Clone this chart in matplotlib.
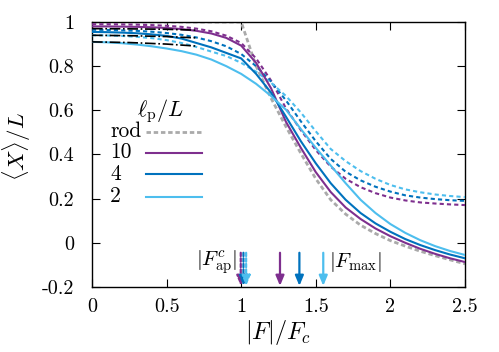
import matplotlib
matplotlib.use("Agg")
import matplotlib.pyplot as plt

plt.rcParams['mathtext.fontset'] = 'cm'
plt.rcParams['font.family'] = ['cmr10', 'DejaVu Serif']
plt.rcParams['axes.unicode_minus'] = False

# ---- data ----
F_grid = [0, 0.1, 0.2, 0.3, 0.4, 0.5, 0.6, 0.7, 0.8, 0.9, 1.0, 1.1, 1.2, 1.3,
          1.4, 1.5, 1.6, 1.7, 1.8, 1.9, 2.0, 2.1, 2.2, 2.3, 2.4, 2.5]

rod_F = [0, 1.0, 1.05, 1.1, 1.2, 1.3, 1.4, 1.5, 1.6, 1.7, 1.8, 1.9, 2.0, 2.1,
         2.2, 2.3, 2.4, 2.5]
rod_X = [1.0, 1.0, 0.90, 0.80, 0.655, 0.526, 0.405, 0.29, 0.195, 0.13, 0.08,
         0.042, 0.01, -0.015, -0.038, -0.058, -0.077, -0.095]

solid_10 = [0.98, 0.98, 0.979, 0.978, 0.976, 0.973, 0.968, 0.96, 0.948, 0.928,
            0.893, 0.815, 0.70, 0.548, 0.43, 0.32, 0.23, 0.16, 0.108, 0.065,
            0.03, 0.0, -0.027, -0.05, -0.07, -0.087]
solid_4 = [0.955, 0.954, 0.952, 0.949, 0.944, 0.937, 0.925, 0.905, 0.885, 0.86,
           0.835, 0.765, 0.68, 0.571, 0.46, 0.36, 0.27, 0.195, 0.135, 0.088,
           0.05, 0.017, -0.01, -0.033, -0.053, -0.07]
solid_2 = [0.91, 0.908, 0.904, 0.898, 0.89, 0.88, 0.868, 0.852, 0.83, 0.80,
           0.765, 0.72, 0.665, 0.603, 0.515, 0.43, 0.35, 0.27, 0.195, 0.135,
           0.085, 0.045, 0.012, -0.015, -0.037, -0.055]

dash_10 = [0.99, 0.99, 0.989, 0.988, 0.986, 0.983, 0.978, 0.97, 0.958, 0.938,
           0.905, 0.835, 0.735, 0.609, 0.51, 0.42, 0.345, 0.29, 0.252, 0.225,
           0.205, 0.192, 0.183, 0.178, 0.174, 0.171]
dash_4 = [0.965, 0.964, 0.962, 0.96, 0.956, 0.95, 0.942, 0.93, 0.913, 0.89,
          0.855, 0.80, 0.73, 0.645, 0.55, 0.46, 0.38, 0.322, 0.283, 0.254,
          0.232, 0.215, 0.205, 0.198, 0.193, 0.19]
dash_2 = [0.94, 0.939, 0.937, 0.933, 0.927, 0.918, 0.905, 0.887, 0.866, 0.846,
          0.815, 0.775, 0.725, 0.665, 0.59, 0.505, 0.425, 0.37, 0.325, 0.29,
          0.262, 0.242, 0.229, 0.219, 0.212, 0.207]

approx_F = [0, 0.25, 0.5, 0.7]
approx_10 = [0.97, 0.969, 0.967, 0.963]
approx_4 = [0.94, 0.938, 0.934, 0.928]
approx_2 = [0.91, 0.907, 0.9, 0.891]

F_max = [1.26, 1.39, 1.55]
F_ap = [0.997, 1.015, 1.033]

labels = ['10', '4', '2']
colors = ['#7E2F8E', '#0072BD', '#4DBEEE']
gray = '#aaaaaa'

fig = plt.figure(figsize=(4.99, 3.52), dpi=100)
ax = fig.add_axes([92/499, 1-287/352, 373/499, 265/352])

rod_ls = (0, (1.6, 1.0))
dash_ls = (0, (2.0, 1.5))
ax.plot(rod_F, rod_X, color=gray, lw=2.0, ls=rod_ls, zorder=2)
for ys, c in zip([dash_10, dash_4, dash_2], colors):
    ax.plot(F_grid, ys, color=c, lw=1.5, ls=dash_ls, zorder=3)
for ys, c in zip([solid_10, solid_4, solid_2], colors):
    ax.plot(F_grid, ys, color=c, lw=1.5, zorder=4)
for ys in [approx_10, approx_4, approx_2]:
    ax.plot(approx_F, ys, color='black', lw=1.2, ls='-.', zorder=5)

astyle = '-|>,head_length=0.6,head_width=0.25'
for f, c in zip(F_max, colors):
    ax.annotate('', xy=(f, -0.195), xytext=(f, -0.045),
                arrowprops=dict(arrowstyle=astyle, color=c, lw=1.6,
                                shrinkA=0, shrinkB=0))
for f, c in zip(F_ap, colors):
    ax.annotate('', xy=(f, -0.195), xytext=(f, -0.045),
                arrowprops=dict(arrowstyle=astyle, color=c, lw=1.6,
                                ls=(0, (1.5, 1.0)), shrinkA=0, shrinkB=0))

ax.text(0.975, -0.087, r'$|F^{c}_{\rm ap}|$', ha='right', va='center', fontsize=15)
ax.text(1.59, -0.087, r'$|F_{\rm max}|$', ha='left', va='center', fontsize=15)

ax.set_xlim(0, 2.5)
ax.set_ylim(-0.2, 1.0)
ax.set_xticks([0, 0.5, 1, 1.5, 2, 2.5])
ax.set_xticklabels(['0', '0.5', '1', '1.5', '2', '2.5'])
ax.set_yticks([-0.2, 0, 0.2, 0.4, 0.6, 0.8, 1])
ax.set_yticklabels(['-0.2', '0', '0.2', '0.4', '0.6', '0.8', '1'])
ax.tick_params(direction='in', length=6, width=0.8, top=True, right=True,
               labelsize=14.5)
ax.tick_params(axis='y', pad=13)
ax.tick_params(axis='x', pad=8)
for s in ax.spines.values():
    s.set_linewidth(1.0)

ax.set_xlabel(r'$|F|/F_c$', fontsize=17.5)
ax.set_ylabel(r'$\langle X\rangle/L$', fontsize=16.5)
ax.xaxis.set_label_coords(0.5, (287-318)/265)
ax.yaxis.set_label_coords((33-92)/373, 0.53)

# legend drawn gnuplot-style: label on the left, sample on the right
def fx(px):
    return (px - 92) / 373

def fy(py):
    return (287 - py) / 265

ax.text(fx(160), fy(111), r'$\ell_{\rm p}/L$', transform=ax.transAxes,
        ha='center', va='center', fontsize=16)
row_y = [131.5, 152.7, 174.3, 196.5]
leg_styles = [(gray, 2.0, rod_ls)] + [(c, 1.5, '-') for c in colors]
for py, lab, (c, lw, ls) in zip(row_y, ['rod'] + labels, leg_styles):
    ax.text(fx(110), fy(py), lab, transform=ax.transAxes, ha='left',
            va='center', fontsize=15.5)
    ax.plot([fx(146), fx(202)], [fy(py), fy(py)], transform=ax.transAxes,
            color=c, lw=lw, ls=ls, clip_on=False)

fig.savefig('out.png', dpi=100)
